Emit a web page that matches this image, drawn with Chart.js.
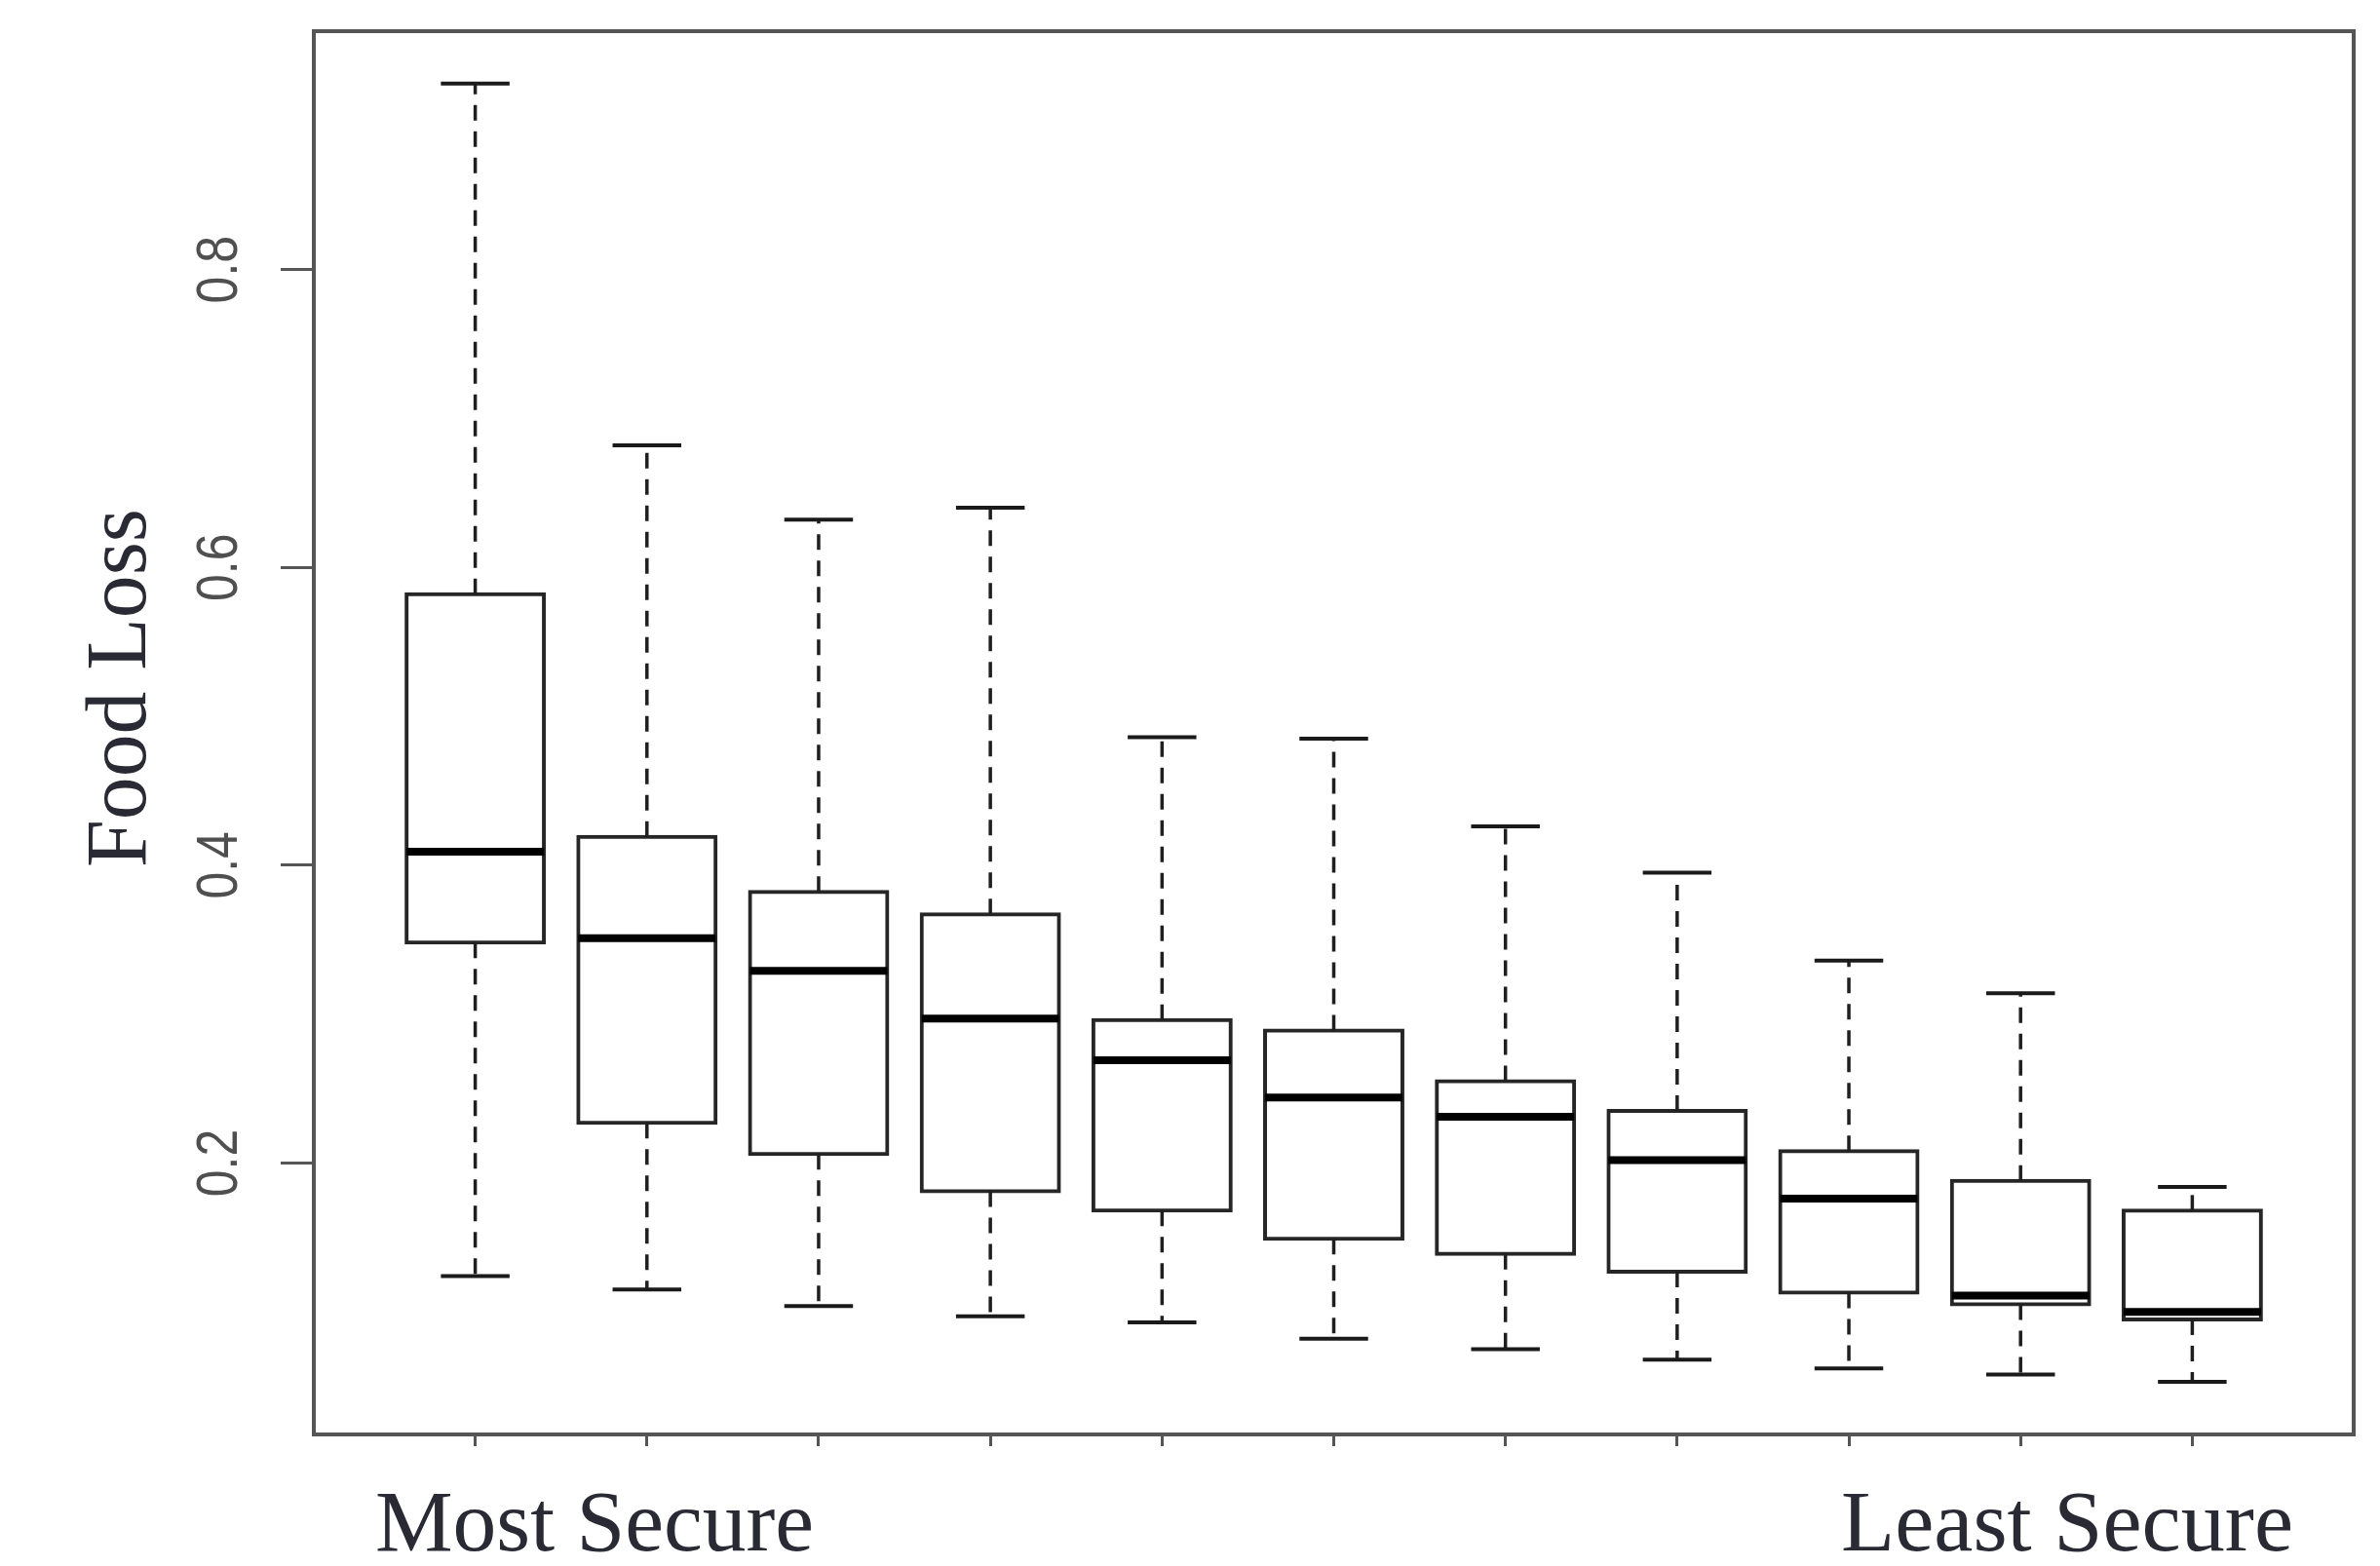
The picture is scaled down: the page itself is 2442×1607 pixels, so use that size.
<!DOCTYPE html>
<html>
<head>
<meta charset="utf-8">
<script src="https://cdn.jsdelivr.net/npm/chart.js@4.4.1/dist/chart.umd.min.js"></script>
<style>
  html, body { margin: 0; padding: 0; background: #ffffff; }
  #c { display: block; }
</style>
</head>
<body>
<canvas id="c" width="2442" height="1607"></canvas>
<script>
// ---- data ----
const groups      = [1, 2, 3, 4, 5, 6, 7, 8, 9, 10, 11];
const whiskerHigh = [0.925, 0.682, 0.632, 0.640, 0.486, 0.485, 0.426, 0.395, 0.336, 0.314, 0.184];
const q3          = [0.582, 0.419, 0.382, 0.367, 0.296, 0.289, 0.255, 0.235, 0.208, 0.188, 0.168];
const median      = [0.409, 0.351, 0.329, 0.297, 0.269, 0.244, 0.231, 0.202, 0.176, 0.111, 0.100];
const q1          = [0.348, 0.227, 0.206, 0.181, 0.168, 0.149, 0.139, 0.127, 0.113, 0.105, 0.095];
const whiskerLow  = [0.124, 0.115, 0.104, 0.097, 0.093, 0.082, 0.075, 0.068, 0.062, 0.058, 0.053];
const yTicks      = [0.2, 0.4, 0.6, 0.8];
const yTickLabels = ['0.2', '0.4', '0.6', '0.8'];
const yRange      = [0.0177, 0.9601];
const xRange      = [0.06, 11.94];
const yTitle      = 'Food Loss';
const xEndLabels  = ['Most Secure', 'Least Secure'];

// ---- drawing helpers ----
const SERIF = '88px "Liberation Serif", "DejaVu Serif", serif';
const TEXT_COLOR = '#2a2a35';

function drawFitted(ctx, text, x, y, targetW, rotate) {
  ctx.save();
  ctx.font = SERIF;
  ctx.fillStyle = TEXT_COLOR;
  ctx.textAlign = 'left';
  ctx.textBaseline = 'alphabetic';
  const w = ctx.measureText(text).width;
  ctx.translate(x, y);
  if (rotate) ctx.rotate(-Math.PI / 2);
  ctx.scale(targetW / w, 1);
  ctx.fillText(text, 0, 0);
  ctx.restore();
}

const boxplotPlugin = {
  id: 'rBoxplot',
  afterDatasetsDraw(chart) {
    const { ctx, scales: { x, y } } = chart;
    const halfBox = x.getPixelForValue(1.4) - x.getPixelForValue(1);
    const halfCap = halfBox / 2;
    ctx.save();
    groups.forEach((g, i) => {
      const cx = x.getPixelForValue(g);
      const pQ1 = y.getPixelForValue(q1[i]);
      const pQ3 = y.getPixelForValue(q3[i]);
      const pLo = y.getPixelForValue(whiskerLow[i]);
      const pHi = y.getPixelForValue(whiskerHigh[i]);
      const pMed = y.getPixelForValue(median[i]);

      // dashed whiskers
      ctx.strokeStyle = '#1f1f1f';
      ctx.lineWidth = 3.5;
      ctx.lineCap = 'butt';
      ctx.setLineDash([16, 11]);
      ctx.beginPath(); ctx.moveTo(cx, pQ3); ctx.lineTo(cx, pHi); ctx.stroke();
      ctx.beginPath(); ctx.moveTo(cx, pQ1); ctx.lineTo(cx, pLo); ctx.stroke();

      // staples
      ctx.setLineDash([]);
      ctx.lineWidth = 4;
      ctx.strokeStyle = '#1a1a1a';
      ctx.beginPath();
      ctx.moveTo(cx - halfCap, pHi); ctx.lineTo(cx + halfCap, pHi);
      ctx.moveTo(cx - halfCap, pLo); ctx.lineTo(cx + halfCap, pLo);
      ctx.stroke();

      // median
      ctx.lineWidth = 8;
      ctx.strokeStyle = '#000000';
      ctx.beginPath();
      ctx.moveTo(cx - halfBox, pMed); ctx.lineTo(cx + halfBox, pMed);
      ctx.stroke();
    });
    ctx.restore();
  },
  afterDraw(chart) {
    const { ctx, chartArea: a, scales: { y } } = chart;
    ctx.save();
    // frame
    ctx.strokeStyle = '#555555';
    ctx.lineWidth = 4;
    ctx.strokeRect(a.left, a.top, a.right - a.left, a.bottom - a.top);

    // y tick labels (rotated, R style)
    ctx.fillStyle = '#4f4f4f';
    ctx.font = '50px "Liberation Sans", Arial, sans-serif';
    ctx.textAlign = 'center';
    ctx.textBaseline = 'alphabetic';
    yTicks.forEach((v, i) => {
      const py = y.getPixelForValue(v);
      ctx.save();
      ctx.translate(a.left - 79, py);
      ctx.scale(1.2, 1);
      ctx.rotate(-Math.PI / 2);
      ctx.fillText(yTickLabels[i], 0, 0);
      ctx.restore();
    });
    ctx.restore();

    // axis texts
    drawFitted(ctx, yTitle, 149, 890, 368, true);
    drawFitted(ctx, xEndLabels[0], 385, 1591, 450, false);
    drawFitted(ctx, xEndLabels[1], 1889, 1591, 464, false);
  }
};

new Chart(document.getElementById('c'), {
  type: 'bar',
  data: {
    datasets: [{
      label: 'Food Loss',
      data: groups.map((g, i) => ({ x: g, y: [q1[i], q3[i]] })),
      backgroundColor: '#ffffff',
      borderColor: '#262626',
      borderWidth: 4,
      borderSkipped: false,
      inflateAmount: 2,
      barPercentage: 0.8,
      categoryPercentage: 1.0
    }]
  },
  options: {
    responsive: false,
    animation: false,
    devicePixelRatio: 1,
    layout: { padding: { top: 32, right: 27, left: 0, bottom: 0 } },
    plugins: { legend: { display: false }, tooltip: { enabled: false } },
    scales: {
      x: {
        type: 'linear',
        position: 'bottom',
        offset: false,
        min: xRange[0],
        max: xRange[1],
        afterBuildTicks: s => { s.ticks = groups.map(v => ({ value: v })); },
        afterFit: s => { s.height = 135; },
        ticks: { display: false },
        grid: { display: true, offset: false, drawOnChartArea: false, drawTicks: true, tickLength: 12,
                tickWidth: 3, tickColor: '#555555', color: '#555555', lineWidth: 3 },
        border: { display: false }
      },
      y: {
        type: 'linear',
        position: 'left',
        offset: false,
        min: yRange[0],
        max: yRange[1],
        afterBuildTicks: s => { s.ticks = yTicks.map(v => ({ value: v })); },
        afterFit: s => { s.width = 322; },
        ticks: { display: false },
        grid: { display: true, offset: false, drawOnChartArea: false, drawTicks: true, tickLength: 34,
                tickWidth: 3, tickColor: '#555555', color: '#555555', lineWidth: 3 },
        border: { display: false }
      }
    }
  },
  plugins: [boxplotPlugin]
});
</script>
</body>
</html>
